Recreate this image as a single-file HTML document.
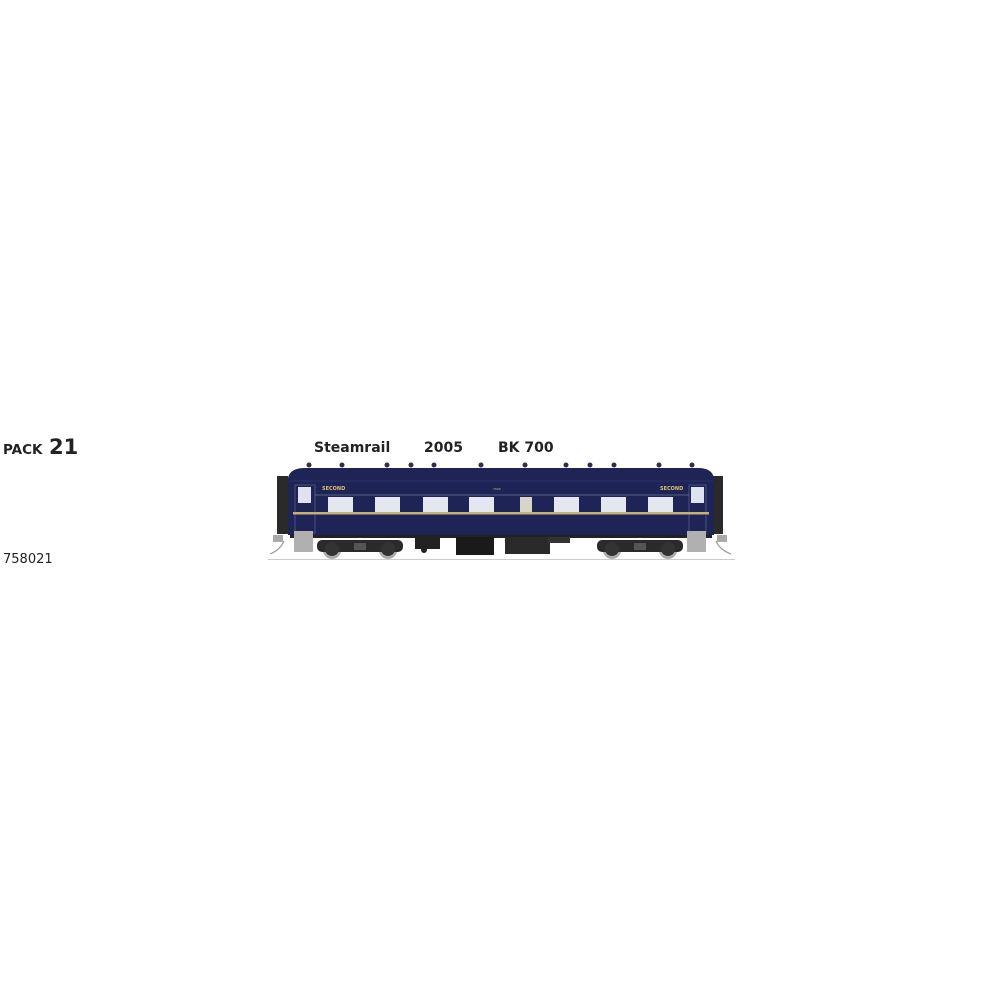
<!DOCTYPE html>
<html><head><meta charset="utf-8"><style>
html,body{margin:0;padding:0;background:#fff;width:1000px;height:1000px;overflow:hidden}
svg{position:absolute;left:0;top:0}
text{font-family:"DejaVu Sans","Liberation Sans",sans-serif;fill:#222}
</style></head><body>
<svg width="1000" height="1000" viewBox="0 0 1000 1000">
<text x="3" y="454" font-size="13.5" font-weight="bold" fill="#333">PACK</text>
<text x="49" y="454" font-size="21" font-weight="bold">21</text>
<text x="3" y="563" font-size="13" font-family="Liberation Sans">758021</text>
<text x="314" y="452" font-size="14" font-weight="bold">Steamrail</text>
<text x="424" y="452" font-size="14" font-weight="bold">2005</text>
<text x="498" y="452" font-size="14" font-weight="bold">BK 700</text>
<line x1="268" y1="559.5" x2="735" y2="559.5" stroke="#ccc" stroke-width="1"/>
<rect x="277" y="476" width="11" height="58" fill="#2a2a2a"/>
<rect x="712" y="476" width="11" height="58" fill="#2a2a2a"/>
<g fill="#2a3050">
<circle cx="309" cy="465" r="2.5"/><circle cx="342" cy="465" r="2.5"/><circle cx="387" cy="465" r="2.5"/><circle cx="411" cy="465" r="2.5"/><circle cx="434" cy="465" r="2.5"/><circle cx="481" cy="465" r="2.5"/><circle cx="525" cy="465" r="2.5"/><circle cx="566" cy="465" r="2.5"/><circle cx="590" cy="465" r="2.5"/><circle cx="614" cy="465" r="2.5"/><circle cx="659" cy="465" r="2.5"/><circle cx="692" cy="465" r="2.5"/>
</g>
<path d="M288 535 L288 478 Q290 468 305 468 L698 468 Q712 468 714 478 L714 535 Z" fill="#1f2456"/>
<line x1="289" y1="481" x2="713" y2="481" stroke="#2b3168" stroke-width="1"/>
<rect x="295" y="485" width="20" height="48" fill="none" stroke="#4a5080" stroke-width="1"/>
<rect x="689" y="485" width="17" height="48" fill="none" stroke="#4a5080" stroke-width="1"/>
<rect x="298" y="487" width="13" height="16" fill="#dfe3f0"/>
<rect x="691" y="487" width="13" height="16" fill="#dfe3f0"/>
<g fill="#e4e7f2">
<rect x="328" y="497" width="25" height="15"/><rect x="375" y="497" width="25" height="15"/><rect x="423" y="497" width="25" height="15"/><rect x="469" y="497" width="25" height="15"/><rect x="554" y="497" width="25" height="15"/><rect x="601" y="497" width="25" height="15"/><rect x="648" y="497" width="25" height="15"/>
</g>
<rect x="520" y="497" width="12" height="15" fill="#d8d4c8"/>
<line x1="315" y1="495" x2="689" y2="495" stroke="#5a6088" stroke-width="1"/>
<rect x="293" y="512" width="416" height="2.5" fill="#c8b070"/>
<text x="322" y="490" font-size="5" font-weight="bold" style="fill:#d8c070">SECOND</text>
<text x="660" y="490" font-size="5" font-weight="bold" style="fill:#d8c070">SECOND</text>
<text x="493" y="490" font-size="3" style="fill:#d8c070">7000</text>
<rect x="290" y="535" width="422" height="3" fill="#222"/>
<rect x="415" y="537" width="25" height="12" fill="#222"/>
<circle cx="424" cy="550" r="3" fill="#222"/>
<rect x="456" y="537" width="38" height="18" fill="#1a1a1a"/>
<rect x="505" y="537" width="45" height="17" fill="#2a2a2a"/>
<rect x="548" y="537" width="22" height="6" fill="#333"/>
<rect x="294" y="531" width="19" height="21" fill="#b0b0b0"/>
<rect x="687" y="531" width="19" height="21" fill="#b0b0b0"/>
<rect x="273" y="535" width="10" height="7" fill="#aaa"/>
<rect x="717" y="535" width="10" height="7" fill="#aaa"/>
<path d="M284 541 Q280 550 270 554" stroke="#999" fill="none" stroke-width="1.2"/>
<path d="M716 541 Q720 550 731 554" stroke="#999" fill="none" stroke-width="1.2"/>
<g>
<circle cx="332" cy="550" r="9" fill="#aaa"/><circle cx="388" cy="550" r="9" fill="#aaa"/>
<rect x="317" y="540" width="86" height="12" rx="5" fill="#2a2a2a"/>
<circle cx="332" cy="549" r="7" fill="#333"/><circle cx="388" cy="549" r="7" fill="#333"/>
<rect x="354" y="543" width="12" height="7" fill="#555"/>
</g>
<g>
<circle cx="612" cy="550" r="9" fill="#aaa"/><circle cx="668" cy="550" r="9" fill="#aaa"/>
<rect x="597" y="540" width="86" height="12" rx="5" fill="#2a2a2a"/>
<circle cx="612" cy="549" r="7" fill="#333"/><circle cx="668" cy="549" r="7" fill="#333"/>
<rect x="634" y="543" width="12" height="7" fill="#555"/>
</g>
</svg>
</body></html>
